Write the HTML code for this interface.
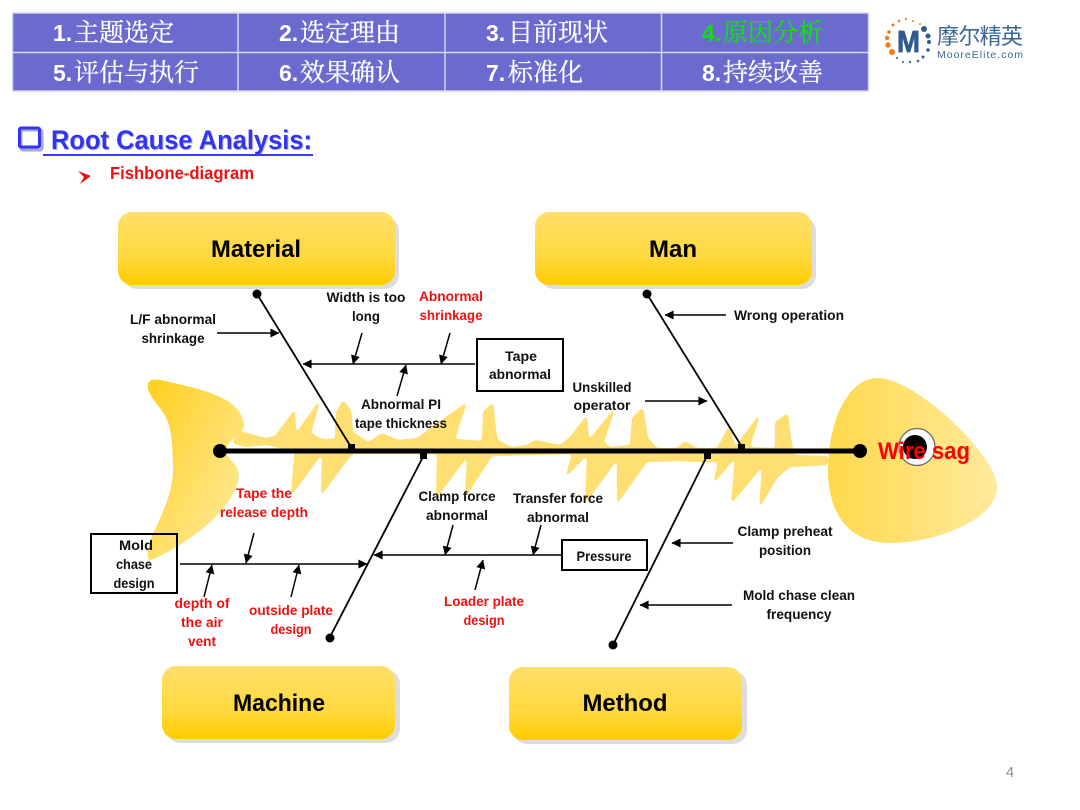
<!DOCTYPE html>
<html><head><meta charset="utf-8">
<style>
html,body{margin:0;padding:0;background:#fff;width:1080px;height:810px;overflow:hidden}
svg{display:block}
text{font-family:"Liberation Sans","Noto Sans CJK SC",sans-serif}
.l{font-size:14px;font-weight:bold;fill:#111;text-anchor:middle}
.r{font-size:14px;font-weight:bold;fill:#f01010;text-anchor:middle}
.c{font-size:24px;font-weight:bold;fill:#000;text-anchor:middle}
.n{font-size:23px;font-weight:bold;fill:#fff}
.z{font-size:25px;fill:#fff;font-family:"Noto Serif CJK SC","Liberation Serif",serif;stroke:#fff;stroke-width:.3}
.a{stroke:#000;stroke-width:1.5;fill:none;marker-end:url(#ah)}
</style></head><body>
<svg width="1080" height="810" viewBox="0 0 1080 810" xmlns="http://www.w3.org/2000/svg">
<defs>
<marker id="ah" viewBox="0 0 10 10" refX="9.5" refY="5" markerWidth="10" markerHeight="9" markerUnits="userSpaceOnUse" orient="auto"><path d="M0,0L10,5L0,10Z" fill="#000"/></marker>
<linearGradient id="box" x1="0" y1="0" x2="0" y2="1"><stop offset="0" stop-color="#FFE06A"/><stop offset=".6" stop-color="#FFD93F"/><stop offset="1" stop-color="#FFCC00"/></linearGradient>
<linearGradient id="tail" x1="0" y1="0" x2="1" y2="1"><stop offset="0" stop-color="#FFCF1E"/><stop offset="1" stop-color="#FFEDA6"/></linearGradient>
<linearGradient id="head" x1="0" y1="0" x2="1" y2="0"><stop offset="0" stop-color="#FFD94C"/><stop offset="1" stop-color="#FFEA9C"/></linearGradient>
<filter id="soft" x="-5%" y="-20%" width="110%" height="140%" color-interpolation-filters="sRGB">
<feGaussianBlur stdDeviation="1.600"/>
<feComponentTransfer><feFuncA type="linear" slope="7" intercept="-2.800"/></feComponentTransfer>
</filter>
</defs>

<!-- nav table -->
<rect x="12.500" y="13" width="856" height="78" fill="#6B6BCF"/>
<g stroke="#D6D6F0" stroke-width="1.500" fill="none">
<rect x="12.500" y="13" width="856" height="78"/>
<path d="M12.500,52.500H868M238,13V91M445,13V91M661.500,13V91"/>
</g>
<text class="n" x="53" y="41">1.</text><text class="z" x="74" y="41">主题选定</text>
<text class="n" x="279" y="41">2.</text><text class="z" x="300" y="41">选定理由</text>
<text class="n" x="486" y="41">3.</text><text class="z" x="508" y="41">目前现状</text>
<text class="n" x="702" y="41" style="fill:#10E010">4.</text><text class="z" x="723" y="41" style="fill:#10E010;stroke:#10E010">原因分析</text>
<text class="n" x="53" y="81">5.</text><text class="z" x="74" y="81">评估与执行</text>
<text class="n" x="279" y="81">6.</text><text class="z" x="300" y="81">效果确认</text>
<text class="n" x="486" y="81">7.</text><text class="z" x="508" y="81">标准化</text>
<text class="n" x="702" y="81">8.</text><text class="z" x="723" y="81">持续改善</text>

<!-- logo -->
<g fill="#F47B20">
<circle cx="892" cy="52" r="3"/><circle cx="888" cy="45" r="2.700"/><circle cx="887" cy="38" r="2.200"/><circle cx="889" cy="32" r="1.800"/><circle cx="893" cy="25" r="1.500"/><circle cx="899" cy="21" r="1.300"/><circle cx="906" cy="19" r="1.100"/><circle cx="913" cy="21" r="1"/><circle cx="920" cy="24" r="1"/>
</g>
<g fill="#2F5B8F">
<circle cx="924" cy="29" r="3"/><circle cx="928" cy="36" r="2.500"/><circle cx="929" cy="42" r="2"/><circle cx="928" cy="50" r="1.800"/><circle cx="923" cy="57" r="1.500"/><circle cx="918" cy="61" r="1.300"/><circle cx="910" cy="62" r="1.100"/><circle cx="903" cy="62" r="1"/><circle cx="897" cy="58" r="1"/>
</g>
<text x="897" y="52" style="font-size:31px;font-weight:bold;fill:#2F5B8F;stroke:#2F5B8F;stroke-width:.8" textLength="23" lengthAdjust="spacingAndGlyphs">M</text>
<text x="937" y="44" style="font-size:22px;fill:#3A6698" textLength="86">摩尔精英</text>
<text x="937" y="58" style="font-size:10.500px;fill:#3A6698" textLength="86">MooreElite.com</text>

<!-- heading -->
<rect x="21" y="130" width="21" height="20" rx="2" fill="none" stroke="#A5A5E8" stroke-width="3"/>
<rect x="19.500" y="128" width="20" height="19" rx="1.500" fill="none" stroke="#3333F0" stroke-width="3"/>
<text x="52" y="150" style="font-size:27px;font-weight:bold;fill:#BFBFBF" textLength="261" lengthAdjust="spacingAndGlyphs">Root Cause Analysis:</text>
<text x="51" y="149" style="font-size:27px;font-weight:bold;fill:#3333F5" textLength="261" lengthAdjust="spacingAndGlyphs">Root Cause Analysis:</text>
<rect x="43" y="154" width="270" height="2" fill="#3B3BEF"/>
<path d="M78,171L91,176L80,184L84,177Z" fill="#f01010"/>
<text x="110" y="179" style="font-size:17.500px;font-weight:bold;fill:#f01010" textLength="144" lengthAdjust="spacingAndGlyphs">Fishbone-diagram</text>

<!-- fish -->
<path fill="url(#tail)" d="M148,384C150,376 165,381 178,384C205,390 232,398 240,413C245,423 246,428 240,433C232,440 226,445 226,451C226,458 236,462 238,471C241,482 233,495 226,505C212,524 180,548 151,560C146,561 147,548 152,536C164,510 174,490 173,465C172,440 172,428 164,414C158,404 146,394 148,384Z"/>
<path fill="#FFDF72" filter="url(#soft)" d="M232,443L240,431L265,438L275,436L295,409L296,433L321,398L311,433L322,439L335,439L336,412L343,400L351,410L353,432L368,442L382,433L398,440L417,438L432,427L467,402L455,439L482,441L483,412L493,402L496,430L498,440L512,447L527,445L535,440L560,445L570,437L587,415L589,440L616,406L604,442L610,447L630,445L632,418L643,407L648,438L657,448L677,448L685,441L697,448L717,448L730,424L735,447L761,412L750,447L775,448L775,422L788,413L791,438L794,455L828,456L828,465L790,467L777,478L759,509L762,467L731,504L735,458L713,484L718,462L697,462L677,461L647,462L617,504L617,460L585,504L587,455L565,478L572,454L492,456L465,498L467,457L436,499L437,454L352,454L321,496L322,454L291,496L295,446L272,470L288,451L268,445L245,447Z"/>
<path fill="url(#head)" d="M828,470C828,425 846,378 878,378C915,378 997,455 997,487C997,520 935,543 890,543C850,543 828,515 828,470Z"/>
<ellipse cx="917" cy="447" rx="18" ry="18.500" fill="#fff" stroke="#666" stroke-width="1.200"/>
<ellipse cx="915" cy="447" rx="12" ry="12" fill="#000"/>

<!-- spine -->
<line x1="220" y1="451" x2="860" y2="451" stroke="#000" stroke-width="5"/>
<circle cx="220" cy="451" r="7" fill="#000"/><circle cx="860" cy="451" r="7" fill="#000"/>

<!-- bones -->
<g stroke="#000" stroke-width="1.800" fill="none">
<path d="M257,294L351,447M647,294L742,447M330,637L424,455M613,645L707,456"/>
</g>
<g fill="#000">
<circle cx="257" cy="294" r="4.500"/><circle cx="647" cy="294" r="4.500"/><circle cx="330" cy="638" r="4.500"/><circle cx="613" cy="645" r="4.500"/>
<rect x="348" y="444" width="7" height="6"/><rect x="738" y="444" width="7" height="6"/><rect x="420" y="453" width="7" height="6"/><rect x="704" y="453" width="7" height="6"/>
</g>

<!-- arrows -->
<line class="a" x1="217" y1="333" x2="279" y2="333"/>
<line class="a" x1="475" y1="364" x2="303" y2="364"/>
<line class="a" x1="362" y1="333" x2="353" y2="364"/>
<line class="a" x1="450" y1="333" x2="441" y2="364"/>
<line class="a" x1="397" y1="396" x2="406" y2="365"/>
<line class="a" x1="726" y1="315" x2="665" y2="315"/>
<line class="a" x1="645" y1="401" x2="707" y2="401"/>
<line class="a" x1="180" y1="564" x2="367" y2="564"/>
<line class="a" x1="254" y1="533" x2="246" y2="563"/>
<line class="a" x1="204" y1="597" x2="212" y2="565"/>
<line class="a" x1="291" y1="597" x2="299" y2="565"/>
<line class="a" x1="561" y1="555" x2="374" y2="555"/>
<line class="a" x1="453" y1="525" x2="445" y2="555"/>
<line class="a" x1="541" y1="525" x2="533" y2="555"/>
<line class="a" x1="475" y1="590" x2="483" y2="560"/>
<line class="a" x1="733" y1="543" x2="672" y2="543"/>
<line class="a" x1="732" y1="605" x2="640" y2="605"/>

<!-- sub boxes -->
<g fill="none" stroke="#000" stroke-width="2">
<rect x="477" y="339" width="86" height="52"/>
<rect x="91" y="534" width="86" height="59"/>
<rect x="562" y="540" width="85" height="30"/>
</g>

<!-- category boxes -->
<rect x="123" y="217" width="276" height="72" rx="14" fill="#DDD"/>
<rect x="118" y="212" width="277" height="73" rx="14" fill="url(#box)"/>
<rect x="540" y="217" width="276" height="72" rx="14" fill="#DDD"/>
<rect x="535" y="212" width="277" height="73" rx="14" fill="url(#box)"/>
<rect x="166" y="670" width="234" height="73" rx="14" fill="#DDD"/>
<rect x="162" y="666" width="233" height="73" rx="14" fill="url(#box)"/>
<rect x="513" y="671" width="234" height="73" rx="14" fill="#DDD"/>
<rect x="509" y="667" width="233" height="73" rx="14" fill="url(#box)"/>
<text class="c" x="256" y="257" textLength="90" lengthAdjust="spacingAndGlyphs">Material</text>
<text class="c" x="673" y="257" textLength="48" lengthAdjust="spacingAndGlyphs">Man</text>
<text class="c" x="279" y="711" textLength="92" lengthAdjust="spacingAndGlyphs">Machine</text>
<text class="c" x="625" y="711" textLength="85" lengthAdjust="spacingAndGlyphs">Method</text>

<!-- labels -->
<text class="l" x="173" y="324" textLength="86" lengthAdjust="spacingAndGlyphs">L/F abnormal</text>
<text class="l" x="173" y="343" textLength="63" lengthAdjust="spacingAndGlyphs">shrinkage</text>
<text class="l" x="366" y="302" textLength="79" lengthAdjust="spacingAndGlyphs">Width is too</text>
<text class="l" x="366" y="321" textLength="28" lengthAdjust="spacingAndGlyphs">long</text>
<text class="r" x="451" y="301" textLength="64" lengthAdjust="spacingAndGlyphs">Abnormal</text>
<text class="r" x="451" y="320" textLength="63" lengthAdjust="spacingAndGlyphs">shrinkage</text>
<text class="l" x="521" y="361" textLength="32" lengthAdjust="spacingAndGlyphs">Tape</text>
<text class="l" x="520" y="379" textLength="62" lengthAdjust="spacingAndGlyphs">abnormal</text>
<text class="l" x="401" y="409" textLength="80" lengthAdjust="spacingAndGlyphs">Abnormal PI</text>
<text class="l" x="401" y="428" textLength="92" lengthAdjust="spacingAndGlyphs">tape thickness</text>
<text class="l" x="602" y="392" textLength="59" lengthAdjust="spacingAndGlyphs">Unskilled</text>
<text class="l" x="602" y="410" textLength="57" lengthAdjust="spacingAndGlyphs">operator</text>
<text class="l" x="789" y="320" textLength="110" lengthAdjust="spacingAndGlyphs">Wrong operation</text>
<text class="r" x="264" y="498" textLength="56" lengthAdjust="spacingAndGlyphs">Tape the</text>
<text class="r" x="264" y="517" textLength="88" lengthAdjust="spacingAndGlyphs">release depth</text>
<text class="l" x="457" y="501" textLength="77" lengthAdjust="spacingAndGlyphs">Clamp force</text>
<text class="l" x="457" y="520" textLength="62" lengthAdjust="spacingAndGlyphs">abnormal</text>
<text class="l" x="558" y="503" textLength="90" lengthAdjust="spacingAndGlyphs">Transfer force</text>
<text class="l" x="558" y="522" textLength="62" lengthAdjust="spacingAndGlyphs">abnormal</text>
<text class="l" x="136" y="550" textLength="34" lengthAdjust="spacingAndGlyphs">Mold</text>
<text class="l" x="134" y="569" textLength="36" lengthAdjust="spacingAndGlyphs">chase</text>
<text class="l" x="134" y="588" textLength="41" lengthAdjust="spacingAndGlyphs">design</text>
<text class="l" x="604" y="561" textLength="55" lengthAdjust="spacingAndGlyphs">Pressure</text>
<text class="l" x="785" y="536" textLength="95" lengthAdjust="spacingAndGlyphs">Clamp preheat</text>
<text class="l" x="785" y="555" textLength="52" lengthAdjust="spacingAndGlyphs">position</text>
<text class="l" x="799" y="600" textLength="112" lengthAdjust="spacingAndGlyphs">Mold chase clean</text>
<text class="l" x="799" y="619" textLength="65" lengthAdjust="spacingAndGlyphs">frequency</text>
<text class="r" x="202" y="608" textLength="55" lengthAdjust="spacingAndGlyphs">depth of</text>
<text class="r" x="202" y="627" textLength="42" lengthAdjust="spacingAndGlyphs">the air</text>
<text class="r" x="202" y="646" textLength="28" lengthAdjust="spacingAndGlyphs">vent</text>
<text class="r" x="291" y="615" textLength="84" lengthAdjust="spacingAndGlyphs">outside plate</text>
<text class="r" x="291" y="634" textLength="41" lengthAdjust="spacingAndGlyphs">design</text>
<text class="r" x="484" y="606" textLength="80" lengthAdjust="spacingAndGlyphs">Loader plate</text>
<text class="r" x="484" y="625" textLength="41" lengthAdjust="spacingAndGlyphs">design</text>
<text x="878" y="459" style="font-size:24px;font-weight:bold;fill:#f00" textLength="92" lengthAdjust="spacingAndGlyphs">Wire sag</text>
<text x="1006" y="777" style="font-size:14.500px;fill:#8a8a8a">4</text>
</svg>
</body></html>
